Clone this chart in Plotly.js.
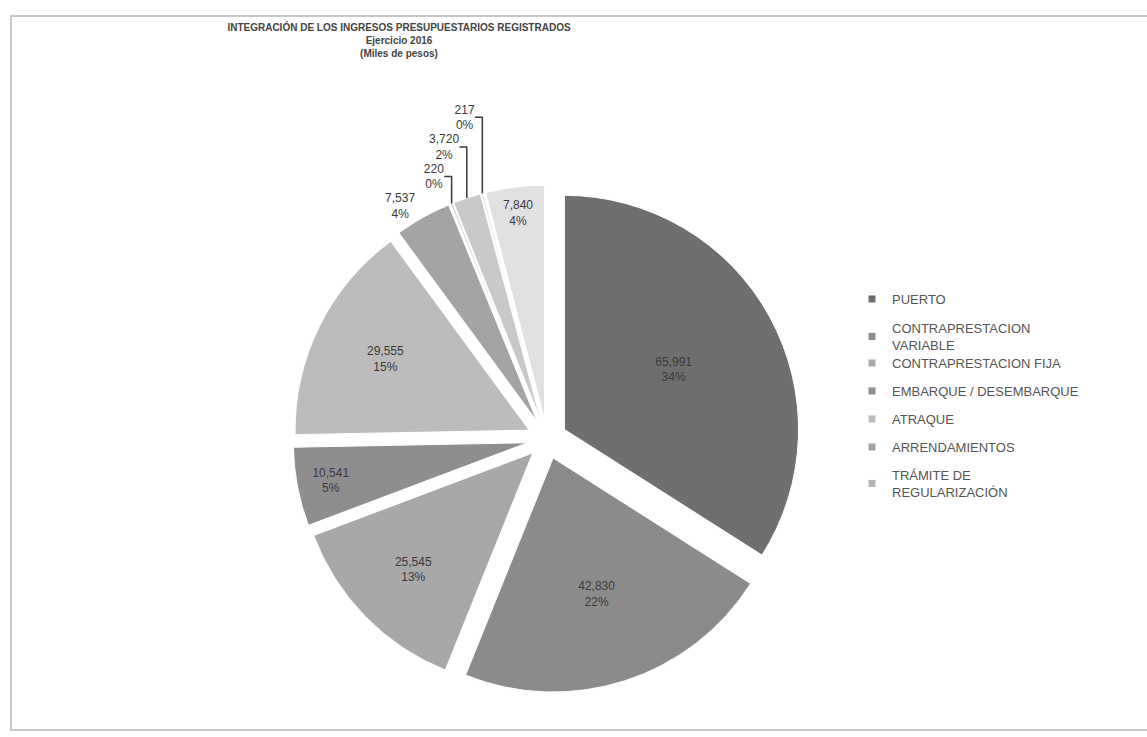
<!DOCTYPE html>
<html>
<head>
<meta charset="utf-8">
<script src="https://cdn.plot.ly/plotly-3.0.1.min.js"></script>
<style>
  html, body { margin: 0; padding: 0; background: #ffffff; }
  #frame { position: absolute; left: 10px; top: 15px; width: 1150px; height: 716px; border: 2px solid #c8c8c8; box-sizing: border-box; }
  #chart { position: absolute; left: 0; top: 0; width: 1147px; height: 737px; }
</style>
</head>
<body>
<div id="frame"></div>
<div id="chart"></div>
<script>
// Data (Miles de pesos)
const sliceLabels = [
  "PUERTO",
  "CONTRAPRESTACION VARIABLE",
  "CONTRAPRESTACION FIJA",
  "EMBARQUE / DESEMBARQUE",
  "ATRAQUE",
  "ARRENDAMIENTOS",
  "TRÁMITE DE REGULARIZACIÓN",
  "OTROS (1)",
  "OTROS (2)",
  "OTROS (3)"
];
const sliceValues = [65991, 42830, 25545, 10541, 29555, 7537, 220, 3720, 217, 7840];
const legendNames = [
  "PUERTO",
  "CONTRAPRESTACION<br>VARIABLE",
  "CONTRAPRESTACION FIJA",
  "EMBARQUE / DESEMBARQUE",
  "ATRAQUE",
  "ARRENDAMIENTOS",
  "TRÁMITE DE<br>REGULARIZACIÓN"
];
const sliceColors = ["#6f6f6f", "#8b8b8b", "#a8a8a8", "#8e8e8e", "#bcbcbc", "#a4a4a4", "#b3b3b3", "#c9c9c9", "#d4d4d4", "#e1e1e4"];
const textPos = ["inside", "inside", "inside", "inside", "inside", "outside", "outside", "outside", "outside", "inside"];

const W = 1147, H = 737;
const cx = 547, cy = 439, R = 254;
// first-line centre (px from top) of each legend entry
const legendRowY = [298, 327, 362, 390, 418, 446, 474];
const legendX = 852;
const fontFam = "Liberation Sans, Arial, sans-serif";

const traces = [{
  type: "pie",
  labels: sliceLabels,
  values: sliceValues,
  sort: false,
  direction: "clockwise",
  rotation: 0,
  pull: 0.085,
  marker: { colors: sliceColors, line: { color: "#ffffff", width: 1 } },
  texttemplate: "%{value:,.0f}<br>%{percent:.0%}",
  textposition: textPos,
  insidetextorientation: "horizontal",
  insidetextfont: { family: fontFam, size: 12, color: "#3a3a3a" },
  outsidetextfont: { family: fontFam, size: 12, color: "#3a3a3a" },
  showlegend: false,
  domain: { x: [(cx - R) / W, (cx + R) / W], y: [1 - (cy + R) / H, 1 - (cy - R) / H] },
  hoverinfo: "label+value+percent"
}];

const layout = {
  width: W, height: H,
  margin: { l: 0, r: 0, t: 0, b: 0 },
  paper_bgcolor: "rgba(0,0,0,0)",
  plot_bgcolor: "rgba(0,0,0,0)",
  title: {
    text: "<b>INTEGRACIÓN DE LOS INGRESOS PRESUPUESTARIOS REGISTRADOS</b><br><b>Ejercicio 2016</b><br><b>(Miles de pesos)</b>",
    font: { family: fontFam, size: 10, color: "#444444" },
    x: 399 / W, xanchor: "center",
    y: 1 - 31 / H, yanchor: "top",
    xref: "paper", yref: "paper"
  },
  xaxis: { visible: false, domain: [0.99, 1] },
  yaxis: { visible: false, domain: [0.99, 1] },
  showlegend: true
};

legendNames.forEach((n, i) => {
  const key = i === 0 ? "legend" : "legend" + (i + 1);
  traces.push({
    type: "scatter",
    mode: "markers",
    x: [null], y: [null],
    name: n,
    legend: key,
    marker: { symbol: "square", size: 7, color: sliceColors[i] },
    showlegend: true,
    hoverinfo: "skip"
  });
  layout[key] = {
    x: legendX / W, xanchor: "left",
    y: 1 - (legendRowY[i] - 14) / H, yanchor: "top",
    font: { family: fontFam, size: 13, color: "#555555" },
    itemwidth: 30,
    bgcolor: "rgba(0,0,0,0)"
  };
});

Plotly.newPlot("chart", traces, layout, { displayModeBar: false, staticPlot: true });
</script>
</body>
</html>
